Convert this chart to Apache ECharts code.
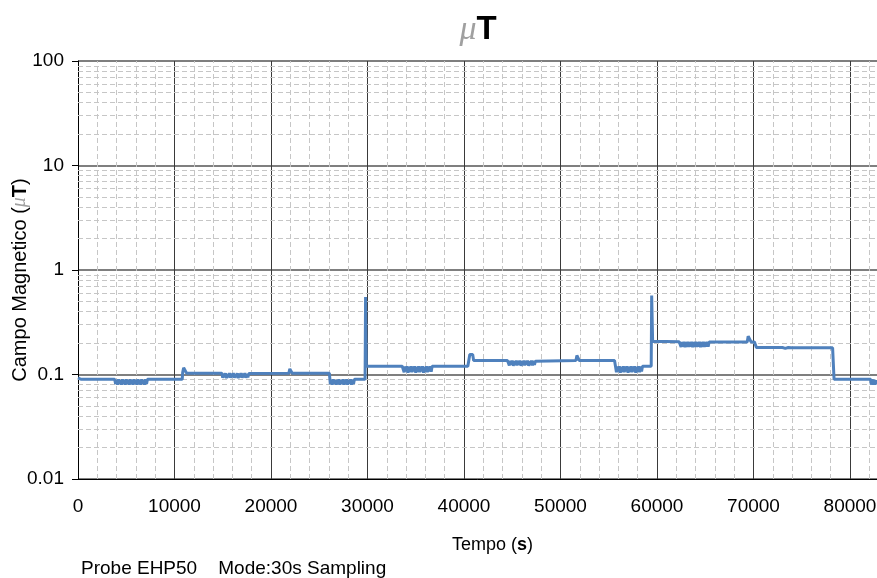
<!DOCTYPE html>
<html><head><meta charset="utf-8">
<script src="https://cdn.jsdelivr.net/npm/echarts@6/dist/echarts.min.js"></script>
<style>html,body{margin:0;padding:0;background:#fff}#c{width:877px;height:578px}</style>
</head><body><div id="c"></div>
<script>
// [time (s), field (µT)] segments
const seg1 = [[0,0.093],[300,0.09],[3800,0.09]];
const noise1 = [[3900,0.081],[4000,0.089],[4100,0.080],[4200,0.090],[4300,0.082],[4400,0.088],[4500,0.080],[4600,0.090],
  [4700,0.081],[4800,0.089],[4900,0.080],[5000,0.090],[5100,0.082],[5200,0.088],[5300,0.080],[5400,0.090],
  [5500,0.081],[5600,0.089],[5700,0.080],[5800,0.090],[5900,0.082],[6000,0.088],[6100,0.080],[6200,0.090],
  [6300,0.081],[6400,0.089],[6500,0.080],[6600,0.090],[6700,0.082],[6800,0.088],[6900,0.080],[7000,0.090],[7100,0.081],[7200,0.09]];
const seg2 = [[10800,0.09],[10850,0.105],[10950,0.116],[11150,0.116],[11250,0.103]];
const noise2 = [[14900,0.103],[15000,0.093],[15100,0.102],[15200,0.094],[15300,0.103],[15400,0.092],[15500,0.101],[15600,0.094],
  [15700,0.103],[15800,0.093],[15900,0.102],[16000,0.094],[16100,0.103],[16200,0.093],[16300,0.101],[16400,0.094],
  [16500,0.103],[16600,0.092],[16700,0.102],[16800,0.094],[16900,0.103],[17000,0.093],[17100,0.102],[17200,0.094],
  [17300,0.103],[17400,0.093],[17500,0.101],[17600,0.094],[17700,0.102],[17800,0.103]];
const seg3 = [[21850,0.103],[21950,0.113],[22100,0.113],[22200,0.103],[26050,0.103]];
const noise3 = [[26150,0.081],[26250,0.089],[26350,0.080],[26450,0.090],[26550,0.082],[26650,0.088],[26750,0.080],[26850,0.089],
  [26950,0.081],[27050,0.090],[27150,0.080],[27250,0.088],[27350,0.082],[27450,0.090],[27550,0.080],[27650,0.089],
  [27750,0.081],[27850,0.090],[27950,0.080],[28050,0.088],[28150,0.082],[28250,0.090],[28350,0.080],[28450,0.089],[28550,0.081],[28650,0.09]];
const seg4 = [[29750,0.09],[29800,0.55],[29880,0.12],[33600,0.12]];
const noise4 = [[33700,0.120],[33800,0.105],[33900,0.119],[34000,0.107],[34100,0.120],[34200,0.104],[34300,0.118],[34400,0.106],
  [34500,0.120],[34600,0.105],[34700,0.119],[34800,0.107],[34900,0.120],[35000,0.104],[35100,0.118],[35200,0.106],
  [35300,0.120],[35400,0.105],[35500,0.119],[35600,0.107],[35700,0.120],[35800,0.104],[35900,0.118],[36000,0.106],
  [36100,0.120],[36200,0.105],[36300,0.119],[36400,0.107],[36500,0.120],[36600,0.106],[36700,0.120]];
const seg5 = [[40400,0.12],[40600,0.155],[40900,0.155],[41000,0.136],[44500,0.136]];
const noise5 = [[44600,0.136],[44700,0.122],[44800,0.135],[44900,0.124],[45000,0.136],[45100,0.121],[45200,0.134],[45300,0.123],
  [45400,0.136],[45500,0.122],[45600,0.135],[45700,0.124],[45800,0.136],[45900,0.121],[46000,0.134],[46100,0.123],
  [46200,0.136],[46300,0.122],[46400,0.135],[46500,0.124],[46600,0.136],[46700,0.121],[46800,0.134],[46900,0.123],
  [47000,0.136],[47100,0.122],[47200,0.135],[47300,0.124],[47400,0.134],[47500,0.136]];
const seg6 = [[51600,0.136],[51700,0.152],[51850,0.152],[51950,0.136],[55600,0.136]];
const noise6 = [[55700,0.120],[55800,0.105],[55900,0.119],[56000,0.107],[56100,0.120],[56200,0.104],[56300,0.118],[56400,0.106],
  [56500,0.120],[56600,0.105],[56700,0.119],[56800,0.107],[56900,0.120],[57000,0.104],[57100,0.118],[57200,0.106],
  [57300,0.120],[57400,0.105],[57500,0.119],[57600,0.107],[57700,0.120],[57800,0.104],[57900,0.118],[58000,0.106],
  [58100,0.120],[58200,0.105],[58300,0.119],[58400,0.107],[58500,0.120]];
const seg7 = [[59400,0.12],[59450,0.57],[59550,0.208],[59600,0.206],[62300,0.206]];
const noise7 = [[62400,0.206],[62500,0.183],[62600,0.205],[62700,0.185],[62800,0.206],[62900,0.182],[63000,0.204],[63100,0.184],
  [63200,0.206],[63300,0.183],[63400,0.205],[63500,0.185],[63600,0.206],[63700,0.182],[63800,0.204],[63900,0.184],
  [64000,0.206],[64100,0.183],[64200,0.205],[64300,0.185],[64400,0.206],[64500,0.182],[64600,0.204],[64700,0.184],
  [64800,0.206],[64900,0.183],[65000,0.205],[65100,0.185],[65200,0.206],[65300,0.184],[65400,0.205],[65500,0.205]];
const seg8 = [[69350,0.205],[69450,0.232],[69600,0.232],[69750,0.205],[70100,0.205],[70300,0.181],
  [73000,0.181],[73300,0.178],[73600,0.181],[73900,0.18],[78200,0.18],[78350,0.09],[82150,0.09]];
const noise8 = [[82200,0.080],[82300,0.090],[82400,0.080],[82500,0.089],[82600,0.080],[82700,0.088],[82800,0.081]];

const yTicks = [0.01, 0.1, 1, 10, 100];
const xMax = 82800;

const points = [].concat(seg1, noise1, seg2, noise2, seg3, noise3, seg4, noise4,
  seg5, noise5, seg6, noise6, seg7, noise7, seg8, noise8);

// minor grid positions (style only)
const yMinor = [];
for (let k = -2; k <= 1; k++) for (let m = 2; m <= 9; m++) yMinor.push({ yAxis: +(m * Math.pow(10, k)).toPrecision(3) });
const xMinor = [];
for (let t = 2000; t < xMax; t += 2000) if (t % 10000 !== 0) xMinor.push({ xAxis: t });

const chart = echarts.init(document.getElementById('c'));
const dash = { type: [5, 3], color: '#c6c6c6', width: 1 };
const F = 'Liberation Sans';
chart.setOption({
  animation: false,
  backgroundColor: '#fff',
  title: {
    text: '{mu|μ}{t|T}',
    left: 473, top: 8, textAlign: 'center',
    textStyle: {
      rich: {
        mu: { fontFamily: 'Liberation Serif', fontStyle: 'italic', fontWeight: 'normal', fontSize: 34, color: '#a0a0a0' },
        t: { fontFamily: F, fontWeight: 'bold', fontSize: 33, color: '#000' }
      }
    }
  },
  grid: { left: 78, right: 0, top: 61, bottom: 99, containLabel: false, outerBoundsMode: 'none' },
  xAxis: {
    type: 'value', min: 0, max: xMax, interval: 10000,
    name: '{a|Tempo (}{b|s}{a|)}', nameLocation: 'middle', nameGap: 57,
    nameTextStyle: { padding: [0, 0, 0, 30], rich: {
      a: { fontFamily: F, fontSize: 18, color: '#000' },
      b: { fontFamily: F, fontSize: 18, fontWeight: 'bold', color: '#000' } } },
    axisLine: { show: true, onZero: false, lineStyle: { color: '#000', width: 1 } },
    axisTick: { show: false },
    axisLabel: { margin: 18, fontFamily: F, fontSize: 19, color: '#000', showMaxLabel: false,
      formatter: v => String(v) },
    splitLine: { show: true, lineStyle: { color: '#3a3a3a', width: 1 } }
  },
  yAxis: {
    type: 'log', logBase: 10, min: 0.01, max: 100,
    name: '{a|Campo Magnetico (}{mu|μ}{b|T}{a|)}', nameLocation: 'middle', nameGap: 48, nameRotate: 90,
    nameMoveOverlap: false,
    nameTextStyle: { padding: [0, 20, 0, 0], rich: {
      a: { fontFamily: F, fontSize: 20, color: '#000' },
      mu: { fontFamily: 'Liberation Serif', fontStyle: 'italic', fontSize: 20, color: '#a0a0a0' },
      b: { fontFamily: F, fontSize: 20, fontWeight: 'bold', color: '#000' } } },
    axisLine: { show: true, lineStyle: { color: '#000', width: 1 } },
    axisTick: { show: true, length: 6, lineStyle: { color: '#000' } },
    axisLabel: { margin: 14, fontFamily: F, fontSize: 19, color: '#000',
      formatter: v => { const m = yTicks.find(x => Math.abs(x - v) / x < 1e-6); return m === undefined ? '' : String(m); } },
    splitLine: { show: true, lineStyle: { color: '#555', width: 1.5 } }
  },
  graphic: [{
    type: 'text', left: 81, top: 559,
    style: { text: 'Probe EHP50    Mode:30s Sampling', font: '19px "Liberation Sans"', fill: '#000' }
  }],
  series: [
    {
      type: 'line', data: [], z: 1, silent: true,
      markLine: { silent: true, symbol: ['none', 'none'], label: { show: false }, lineStyle: dash,
        data: yMinor.concat(xMinor), animation: false }
    },
    {
      type: 'line', data: points, z: 5, showSymbol: false, symbol: 'none',
      lineStyle: { color: '#4f81bd', width: 3 }, itemStyle: { color: '#4f81bd' }
    }
  ]
});
</script></body></html>
